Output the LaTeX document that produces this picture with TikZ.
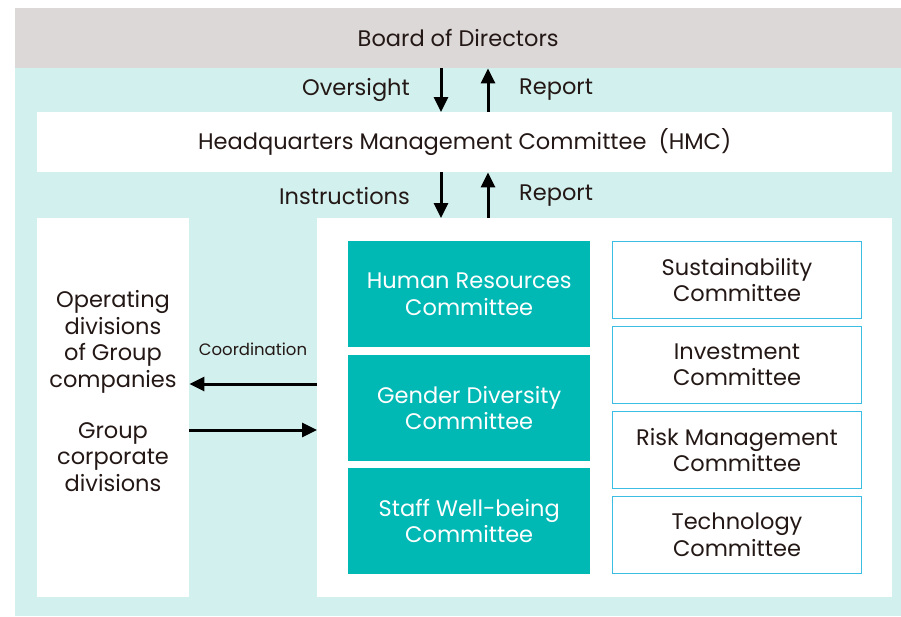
\documentclass[tikz,border=0pt]{standalone}
\usepackage{fontspec}
\setmainfont{Poppins}
\usepackage{xcolor}
\usepackage{tikz}
\usetikzlibrary{arrows.meta}

\definecolor{boardgrey}{HTML}{DCD8D7}
\definecolor{bgteal}{HTML}{D2F0EE}
\definecolor{comteal}{HTML}{00B9B5}
\definecolor{lineblue}{HTML}{3CBDE3}
\definecolor{ink}{HTML}{231815}

\begin{document}
\begin{tikzpicture}[x=1pt,y=-1pt,
  every node/.style={inner sep=0pt, text=ink, align=center,
    font=\fontsize{22.5}{26.5}\selectfont},
  whitebox/.style={fill=white, anchor=north west},
  tealbox/.style={fill=comteal, text=white, anchor=north west,
    minimum width=242, minimum height=106},
  bluebox/.style={draw=lineblue, line width=1pt, fill=white, anchor=north west,
    minimum width=249, minimum height=77},
  arr/.style={line width=3pt, -{Triangle[length=15pt,width=14pt]}}]

\useasboundingbox (0,0) rectangle (901,616);

% backgrounds
\fill[bgteal] (15,68) rectangle (901,616);
\node[fill=boardgrey, anchor=north west, minimum width=886, minimum height=60]
  (board) at (15,8) {Board of Directors};

% HMC
\node[whitebox, minimum width=855, minimum height=60] (hmc) at (37,112)
  {Headquarters Management Committee\ \ (HMC)};

% arrows between board and HMC
\draw[arr] (441,0 |- board.south) -- (441,0 |- hmc.north);
\draw[arr] (488,0 |- hmc.north) -- (488,0 |- board.south);
\node[anchor=east] (oversight) at (410,90) {Oversight};
\node[anchor=west] (report1) at (519,90) {Report};

% white columns
\node[whitebox, minimum width=152, minimum height=379] (groups) at (37,218) {};
\node[whitebox, minimum width=575, minimum height=379] (cmts) at (317,218) {};

\draw[arr] (441,0 |- hmc.south) -- (441,0 |- cmts.north);
\draw[arr] (488,0 |- cmts.north) -- (488,0 |- hmc.south);
\node[anchor=east] (instr) at (410,196) {Instructions};
\node[anchor=west] (report2) at (519,196) {Report};

% left column text
\node (opdiv) at (113,342) {Operating\\divisions\\of Group\\companies};
\node (corpdiv) at (113,457) {Group\\corporate\\divisions};

% coordination
\draw[arr] (cmts.west |- 0,384) -- (groups.east |- 0,384);
\draw[arr] (groups.east |- 0,430) -- (cmts.west |- 0,430);
\node[font=\fontsize{16.5}{19}\selectfont] (coord) at (253,349) {Coordination};

% teal committees
\node[tealbox] (hr) at (348,241) {Human Resources\\Committee};
\node[tealbox] (gender) at (348,355) {Gender Diversity\\Committee};
\node[tealbox] (staff) at (348,468) {Staff Well-being\\Committee};

% outlined committees
\node[bluebox] (sust) at (612,241) {Sustainability\\Committee};
\node[bluebox] (invest) at (612,326) {Investment\\Committee};
\node[bluebox] (risk) at (612,411) {Risk Management\\Committee};
\node[bluebox] (tech) at (612,496) {Technology\\Committee};

\end{tikzpicture}
\end{document}
